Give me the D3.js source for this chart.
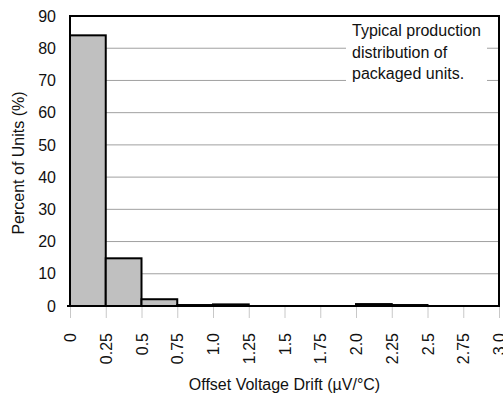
<!DOCTYPE html>
<html>
<head>
<meta charset="utf-8">
<script src="https://cdn.jsdelivr.net/npm/d3@7"></script>
<style>
body { margin: 0; background: #fff; }
text { font-family: "Liberation Sans", Arial, sans-serif; }
</style>
</head>
<body>
<svg id="canvas"></svg>
<script>
// bin edges (µV/°C) and percent of units per bin
const binStarts = [0, 0.25, 0.5, 0.75, 1.0, 1.25, 1.5, 1.75, 2.0, 2.25, 2.5, 2.75]
const percents = [84, 14.8, 2.1, 0.3, 0.5, 0, 0, 0, 0.6, 0.3, 0, 0]
const xTicks = ['0', '0.25', '0.5', '0.75', '1.0', '1.25', '1.5', '1.75', '2.0', '2.25', '2.5', '2.75', '3.0']
const yTicks = [0, 10, 20, 30, 40, 50, 60, 70, 80, 90]
const note = ['Typical production', 'distribution of', 'packaged units.']

let width = 503
let height = 396
let plotLeft = 70, plotRight = 499, plotTop = 16, plotBottom = 306
let binW = 0.25
let fs = 16

const svg = d3.select('#canvas')
    .attr('width', width)
    .attr('height', height)

const x = d3.scaleLinear().domain([0, 3]).range([plotLeft, plotRight])
const y = d3.scaleLinear().domain([0, 90]).range([plotBottom, plotTop])

// the source picture was cropped just above the 90 label
svg.append('defs').append('clipPath')
    .attr('id', 'crop')
    .append('rect')
    .attr('x', 0).attr('y', 10)
    .attr('width', width).attr('height', height)

// grid lines
svg.append('g')
    .selectAll('line')
    .data(yTicks.filter(d => d > 0 && d < 90))
    .enter()
    .append('line')
    .attr('x1', plotLeft).attr('x2', plotRight)
    .attr('y1', d => y(d)).attr('y2', d => y(d))
    .attr('stroke', '#a0a0a0')
    .attr('stroke-width', 1)

// note box covers the grid
svg.append('rect')
    .attr('x', 346).attr('y', plotTop + 2)
    .attr('width', 141).attr('height', 65)
    .attr('fill', '#fff')

svg.append('g')
    .selectAll('text')
    .data(note)
    .enter()
    .append('text')
    .attr('x', 352)
    .attr('y', (d, i) => 36 + i * 21.5)
    .attr('font-size', fs)
    .attr('fill', '#111')
    .text(d => d)

// x ticks
const xAxis = d3.axisBottom(x)
    .tickValues(d3.range(0, 3.01, 0.25))
    .tickFormat((d, i) => xTicks[i])
    .tickSize(12)
    .tickPadding(0)

const gx = svg.append('g')
    .attr('transform', 'translate(0,' + plotBottom + ')')
    .call(xAxis)
gx.select('.domain').remove()
gx.selectAll('.tick line').attr('stroke', '#c8c8c8')
gx.selectAll('.tick text')
    .attr('transform', 'rotate(-90)')
    .attr('text-anchor', 'end')
    .attr('x', -27)
    .attr('y', 0)
    .attr('dy', '0.35em')
    .attr('font-size', fs)
    .attr('fill', '#111')
    .style('font-family', '"Liberation Sans", Arial, sans-serif')

// y axis labels
const yAxis = d3.axisLeft(y)
    .tickValues(yTicks)
    .tickSize(0)
    .tickPadding(14)

const gy = svg.append('g')
    .attr('clip-path', 'url(#crop)')
    .append('g')
    .attr('transform', 'translate(' + plotLeft + ',0)')
    .call(yAxis)
gy.select('.domain').remove()
gy.selectAll('.tick text')
    .attr('font-size', fs)
    .attr('fill', '#111')
    .style('font-family', '"Liberation Sans", Arial, sans-serif')

// bars
svg.append('g')
    .selectAll('rect')
    .data(binStarts.map((b, i) => [b, percents[i]]))
    .enter()
    .append('rect')
    .attr('x', d => x(d[0]))
    .attr('width', d => x(d[0] + binW) - x(d[0]))
    .attr('y', d => y(d[1]))
    .attr('height', d => y(0) - y(d[1]))
    .attr('fill', '#c0c0c0')
    .attr('stroke', '#000')
    .attr('stroke-width', 2)

// frame
svg.append('rect')
    .attr('x', plotLeft).attr('y', plotTop)
    .attr('width', plotRight - plotLeft).attr('height', plotBottom - plotTop)
    .attr('fill', 'none')
    .attr('stroke', '#000')
    .attr('stroke-width', 2)

svg.append('line')
    .attr('x1', plotLeft - 3).attr('x2', plotLeft)
    .attr('y1', plotBottom).attr('y2', plotBottom)
    .attr('stroke', '#000').attr('stroke-width', 2)

// axis titles
svg.append('text')
    .attr('x', (plotLeft + plotRight) / 2)
    .attr('y', 390)
    .attr('text-anchor', 'middle')
    .attr('font-size', fs)
    .attr('fill', '#111')
    .text('Offset Voltage Drift (µV/°C)')

svg.append('text')
    .attr('transform', 'translate(24,' + (plotTop + plotBottom + 4) / 2 + ') rotate(-90)')
    .attr('text-anchor', 'middle')
    .attr('font-size', fs)
    .attr('fill', '#111')
    .text('Percent of Units (%)')
</script>
</body>
</html>
